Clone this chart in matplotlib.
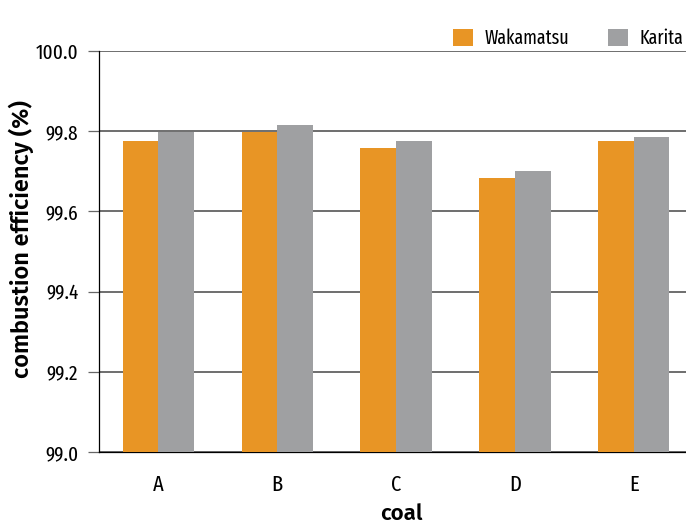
import matplotlib
matplotlib.use("Agg")
import matplotlib.pyplot as plt
import numpy as np

plt.rcParams['font.family'] = ['Fira Sans Extra Condensed', 'DejaVu Sans']
label_font = ['Fira Sans', 'DejaVu Sans']

coal = ['A', 'B', 'C', 'D', 'E']
wakamatsu = [99.776, 99.799, 99.759, 99.684, 99.776]
karita = [99.797, 99.816, 99.776, 99.701, 99.786]

fig = plt.figure(figsize=(6.86, 5.25), dpi=100)
# axes box: x 99..686 px, y 51..452 px
ax = fig.add_axes([99 / 686, 1 - 452 / 525, 587 / 686, 401 / 525])

x = np.arange(len(coal))
width = 0.3
base = 99.0
ax.bar(x - width / 2, np.array(wakamatsu) - base, width, bottom=base,
       color='#E89525', label='Wakamatsu', zorder=3)
ax.bar(x + width / 2, np.array(karita) - base, width, bottom=base,
       color='#9FA0A2', label='Karita', zorder=3)

ax.set_ylim(99.0, 100.0)
ax.set_xlim(-0.5, 4.44)
yt = np.arange(99.0, 100.01, 0.2)
ax.set_yticks(yt)
ax.set_yticklabels([f"{v:.1f}" for v in yt])
ax.set_xticks(x)
ax.set_xticklabels(coal)
ax.yaxis.grid(True, color='#555555', linewidth=1.2, zorder=1)
ax.set_axisbelow(True)

for s in ['top', 'right']:
    ax.spines[s].set_visible(False)
ax.spines['left'].set_linewidth(0.9)
ax.spines['bottom'].set_linewidth(0.9)
ax.tick_params(axis='y', length=8, width=0.9, color='#666666', labelsize=15, pad=7)
ax.tick_params(axis='x', length=0, labelsize=16, pad=16)

ax.set_ylabel('combustion efficiency (%)', fontsize=17, fontweight=600,
              family=label_font)
ax.yaxis.set_label_coords(-0.11, 0.53)
ax.set_xlabel('coal', fontsize=16, fontweight=600, family=label_font)
ax.xaxis.set_label_coords(0.515, -0.127)

ax.legend(loc='lower right', bbox_to_anchor=(1.0, 1.0), ncol=2, frameon=False,
          fontsize=14, handlelength=1.0, handleheight=1.0, columnspacing=2.0,
          handletextpad=0.6, borderaxespad=0.0, borderpad=0.15)

fig.savefig('out.png', dpi=100)
